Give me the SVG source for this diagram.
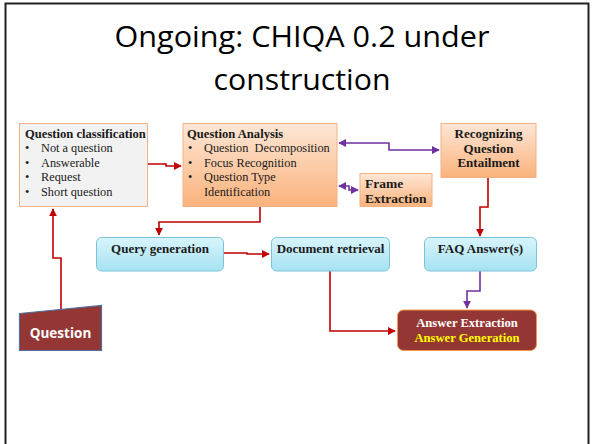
<svg xmlns="http://www.w3.org/2000/svg" width="594" height="444" viewBox="0 0 594 444">
<style>
.t{font-family:"Liberation Serif","Times New Roman",serif;font-size:12.3px;fill:#1a1a1a}
.b{font-weight:bold;font-size:12.6px}
.red{fill:none;stroke:#c00000;stroke-width:1.6}
.pur{fill:none;stroke:#7030a0;stroke-width:1.6}
.title{font-family:"Open Sans","Noto Sans",sans-serif;font-size:29px;fill:#000;text-anchor:middle}
</style>
<defs>
<linearGradient id="og" x1="0" y1="0" x2="0" y2="1">
<stop offset="0" stop-color="#fde7d6"/><stop offset="1" stop-color="#fab27c"/>
</linearGradient>
<linearGradient id="cg" x1="0" y1="0" x2="0" y2="1">
<stop offset="0" stop-color="#d8f4fc"/><stop offset="1" stop-color="#a6e2f2"/>
</linearGradient>
<marker id="ar" viewBox="0 0 10 10" refX="9" refY="5" markerWidth="5" markerHeight="5" orient="auto-start-reverse">
<path d="M0,0 L10,5 L0,10 z" fill="#c00000"/>
</marker>
<marker id="ap" viewBox="0 0 10 10" refX="9" refY="5" markerWidth="5" markerHeight="5" orient="auto-start-reverse">
<path d="M0,0 L10,5 L0,10 z" fill="#7030a0"/>
</marker>
</defs>
<rect width="594" height="444" fill="#fff"/>
<path d="M5.5,446 V3.5 H588.5 V446" fill="none" stroke="#222" stroke-width="2"/>
<g id="title">
<text class="title" x="302" y="47" textLength="375" lengthAdjust="spacingAndGlyphs">Ongoing: CHIQA 0.2 under</text>
<text class="title" x="302" y="90" textLength="177" lengthAdjust="spacingAndGlyphs">construction</text>
</g>
<g id="connectors">
<path class="red" d="M147,164 H166 V166 H181" marker-end="url(#ar)"/>
<path class="red" d="M260,207 V222 H159 V235" marker-end="url(#ar)"/>
<path class="red" d="M223,253 H247 V254 H269" marker-end="url(#ar)"/>
<path class="red" d="M330,271 V331 H395" marker-end="url(#ar)"/>
<path class="red" d="M488,177 V207 H480 V236" marker-end="url(#ar)"/>
<path class="red" d="M61,309 V258 H53 V209" marker-end="url(#ar)"/>
<path class="pur" d="M339,143 H389 V150 H439" marker-start="url(#ap)" marker-end="url(#ap)"/>
<path class="pur" d="M339,186 H349 V190 H358" marker-start="url(#ap)" marker-end="url(#ap)"/>
<path class="pur" d="M480,271 V291 H467 V308" marker-end="url(#ap)"/>
</g>
<g id="qclass">
<rect x="19.5" y="123.5" width="128" height="83" fill="#f2f2f2" stroke="#f4b183" stroke-width="1"/>
<text class="t b" x="25" y="137.5">Question classification</text>
<text class="t" x="25" y="152">•</text><text class="t" x="41" y="152">Not a question</text>
<text class="t" x="25" y="166.5">•</text><text class="t" x="41" y="166.5">Answerable</text>
<text class="t" x="25" y="181">•</text><text class="t" x="41" y="181">Request</text>
<text class="t" x="25" y="195.5">•</text><text class="t" x="41" y="195.5">Short question</text>
</g>
<g id="qanalysis">
<rect x="183" y="123.5" width="154" height="83" fill="url(#og)" stroke="#f4b183" stroke-width="1"/>
<text class="t b" x="187" y="137.5">Question Analysis</text>
<text class="t" x="188" y="152">•</text><text class="t" x="204" y="152" xml:space="preserve">Question  Decomposition</text>
<text class="t" x="188" y="166.5">•</text><text class="t" x="204" y="166.5">Focus Recognition</text>
<text class="t" x="188" y="181">•</text><text class="t" x="204" y="181">Question Type</text>
<text class="t" x="204" y="195.5">Identification</text>
</g>
<g id="rqe">
<rect x="441" y="123.5" width="95" height="54" fill="url(#og)" stroke="#f4b183" stroke-width="1"/>
<text class="t b" x="488.5" y="137.5" text-anchor="middle" style="font-size:13px">Recognizing</text>
<text class="t b" x="488.5" y="152.5" text-anchor="middle" style="font-size:13px">Question</text>
<text class="t b" x="488.5" y="167" text-anchor="middle" style="font-size:13px">Entailment</text>
</g>
<g id="frame">
<rect x="360" y="173.5" width="72" height="33" fill="url(#og)" stroke="#f4b183" stroke-width="1"/>
<text class="t b" x="365" y="188" style="font-size:13.5px">Frame</text>
<text class="t b" x="365" y="203" style="font-size:13.5px">Extraction</text>
</g>
<g id="querygen">
<rect x="96.5" y="237.5" width="127" height="33.5" rx="5" fill="url(#cg)" stroke="#7cc3d7" stroke-width="1"/>
<text class="t b" x="160" y="253" text-anchor="middle" style="font-size:13px">Query generation</text>
</g>
<g id="docret">
<rect x="271.5" y="237.5" width="118" height="33.5" rx="5" fill="url(#cg)" stroke="#7cc3d7" stroke-width="1"/>
<text class="t b" x="330.5" y="253" text-anchor="middle" style="font-size:13px">Document retrieval</text>
</g>
<g id="faq">
<rect x="424.5" y="237.5" width="112" height="33.5" rx="5" fill="url(#cg)" stroke="#7cc3d7" stroke-width="1"/>
<text class="t b" x="480.5" y="253" text-anchor="middle" style="font-size:13px">FAQ Answer(s)</text>
</g>
<g id="answer">
<rect x="397.5" y="310" width="139" height="40.5" rx="6" fill="#943634" stroke="#f79646" stroke-width="1"/>
<text class="t b" x="467" y="327" text-anchor="middle" style="fill:#fff">Answer Extraction</text>
<text class="t b" x="467" y="342" text-anchor="middle" style="fill:#ffff00">Answer Generation</text>
</g>
<g id="question">
<polygon points="19.5,313.5 101.5,305.5 101.5,350.5 19.5,350.5" fill="#943634" stroke="#4f6fa0" stroke-width="1.2"/>
<text x="60.5" y="337.5" text-anchor="middle" font-family="Open Sans, Noto Sans, sans-serif" font-weight="bold" font-size="13.5" fill="#fff">Question</text>
</g>
</svg>
